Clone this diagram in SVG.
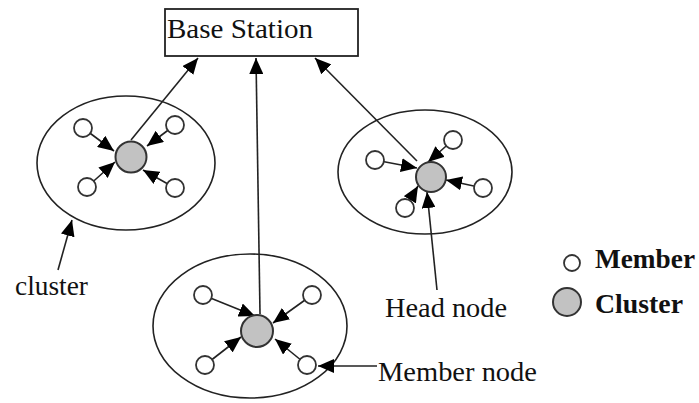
<svg xmlns="http://www.w3.org/2000/svg" width="699" height="403" viewBox="0 0 699 403">
  <defs>
    <marker id="ah" markerWidth="16" markerHeight="14" refX="16" refY="7" orient="auto" markerUnits="userSpaceOnUse">
      <path d="M0,0 L16,7 L0,14 z" fill="#000"/>
    </marker>
    <style>
      .box { fill: #fff; stroke: #222; stroke-width: 1.8; }
      .cl { fill: none; stroke: #222; stroke-width: 1.6; }
      .head { fill: #c2c2c2; stroke: #333; stroke-width: 2; }
      .mem { fill: #fff; stroke: #333; stroke-width: 1.8; }
      .arr { stroke: #222; stroke-width: 1.6; fill: none; marker-end: url(#ah); }
      .t { font-family: "Liberation Serif", "Times New Roman", serif; font-size: 27px; fill: #111; }
      .lg { font-family: "Liberation Serif", "Times New Roman", serif; font-size: 28px; font-weight: bold; fill: #111; }
    </style>
  </defs>
  <rect width="699" height="403" fill="#fff"/>

  <!-- cluster outlines -->
  <g id="cluster-left"><ellipse class="cl" cx="126" cy="163" rx="89" ry="67"/></g>
  <g id="cluster-right"><ellipse class="cl" cx="425" cy="172" rx="87" ry="62"/></g>
  <g id="cluster-bottom"><ellipse class="cl" cx="250" cy="326" rx="97" ry="72"/></g>

  <!-- connectors -->
  <g id="connectors">
    <!-- heads to base station -->
    <line class="arr" x1="131" y1="140" x2="198" y2="58"/>
    <line class="arr" x1="260" y1="314" x2="256" y2="58"/>
    <line class="arr" x1="417" y1="161" x2="315" y2="58"/>
    <!-- left cluster members -->
    <line class="arr" x1="83" y1="128" x2="114" y2="151"/>
    <line class="arr" x1="175" y1="125" x2="147" y2="146"/>
    <line class="arr" x1="87" y1="187" x2="115" y2="162"/>
    <line class="arr" x1="175" y1="188" x2="143" y2="170"/>
    <!-- right cluster members -->
    <line class="arr" x1="453" y1="140" x2="428" y2="162"/>
    <line class="arr" x1="375" y1="160" x2="417" y2="168"/>
    <line class="arr" x1="483" y1="188" x2="446" y2="180"/>
    <line class="arr" x1="405" y1="208" x2="418" y2="186"/>
    <!-- bottom cluster members -->
    <line class="arr" x1="203" y1="295" x2="255" y2="316"/>
    <line class="arr" x1="312" y1="295" x2="273" y2="323"/>
    <line class="arr" x1="205" y1="365" x2="241" y2="337"/>
    <line class="arr" x1="307" y1="365" x2="275" y2="339"/>
    <!-- annotation pointers -->
    <line class="arr" x1="437" y1="290" x2="427" y2="192"/>
    <line class="arr" x1="377" y1="366" x2="318" y2="366"/>
    <line class="arr" x1="58" y1="270" x2="72" y2="220"/>
  </g>

  <!-- base station -->
  <g id="base-station">
    <rect class="box" x="165" y="9" width="193" height="47"/>
    <text class="t" x="167" y="38" textLength="146" lengthAdjust="spacingAndGlyphs">Base Station</text>
  </g>

  <!-- cluster heads -->
  <g id="head-left"><circle class="head" cx="131" cy="157" r="15.5"/></g>
  <g id="head-right"><circle class="head" cx="431" cy="177" r="15"/></g>
  <g id="head-bottom"><circle class="head" cx="257" cy="331" r="16"/></g>

  <!-- member nodes -->
  <g id="members-left">
    <circle class="mem" cx="83" cy="128" r="9"/>
    <circle class="mem" cx="175" cy="125" r="9"/>
    <circle class="mem" cx="87" cy="187" r="9"/>
    <circle class="mem" cx="175" cy="188" r="9"/>
  </g>
  <g id="members-right">
    <circle class="mem" cx="453" cy="140" r="9"/>
    <circle class="mem" cx="375" cy="160" r="9"/>
    <circle class="mem" cx="483" cy="188" r="9"/>
    <circle class="mem" cx="405" cy="208" r="9"/>
  </g>
  <g id="members-bottom">
    <circle class="mem" cx="203" cy="295" r="9"/>
    <circle class="mem" cx="312" cy="295" r="9"/>
    <circle class="mem" cx="205" cy="365" r="9"/>
    <circle class="mem" cx="307" cy="365" r="9"/>
  </g>

  <!-- labels -->
  <g id="labels">
    <text class="t" x="15" y="295" textLength="73" lengthAdjust="spacingAndGlyphs">cluster</text>
    <text class="t" x="385" y="317" textLength="122" lengthAdjust="spacingAndGlyphs">Head node</text>
    <text class="t" x="378" y="381" textLength="159" lengthAdjust="spacingAndGlyphs">Member node</text>
  </g>

  <!-- legend -->
  <g id="legend">
    <circle class="mem" cx="572" cy="263" r="8"/>
    <text class="lg" x="595" y="268" textLength="100" lengthAdjust="spacingAndGlyphs">Member</text>
    <circle class="head" cx="567" cy="302" r="14"/>
    <text class="lg" x="595" y="313" textLength="88" lengthAdjust="spacingAndGlyphs">Cluster</text>
  </g>
</svg>
